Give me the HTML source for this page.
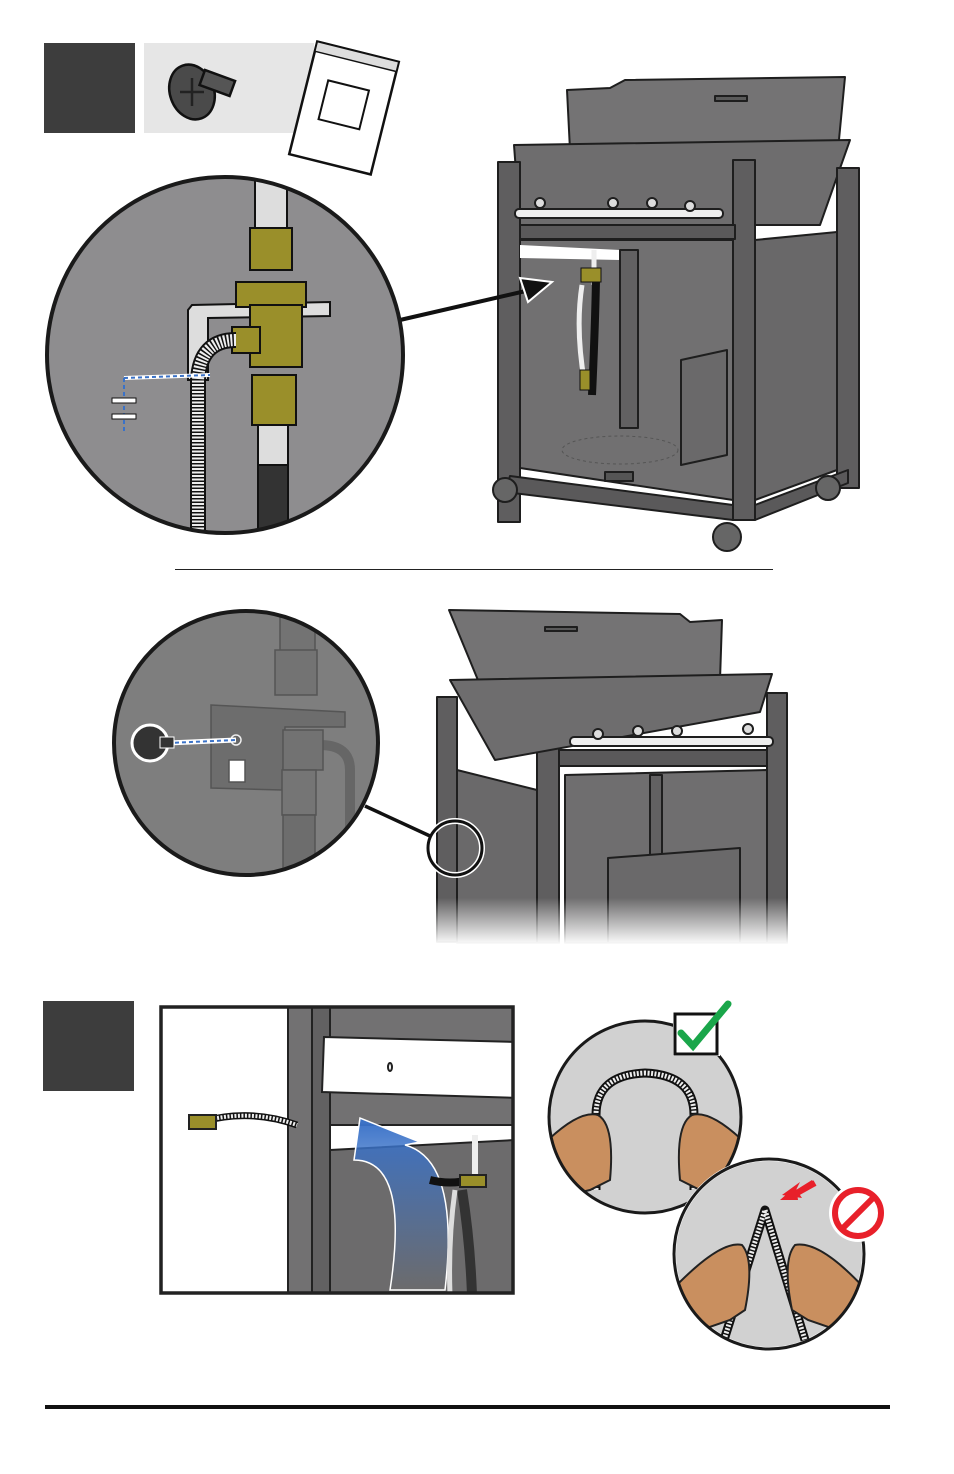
<!DOCTYPE html>
<html><head><meta charset="utf-8"><style>
html,body{margin:0;padding:0;background:#fff;width:954px;height:1474px;overflow:hidden}
svg{display:block}
</style></head><body>
<svg width="954" height="1474" viewBox="0 0 954 1474" xmlns="http://www.w3.org/2000/svg">
<defs>
<linearGradient id="fade" x1="0" y1="0" x2="0" y2="1">
<stop offset="0" stop-color="#fff" stop-opacity="0"/>
<stop offset="0.55" stop-color="#fff" stop-opacity="0"/>
<stop offset="1" stop-color="#fff" stop-opacity="1"/>
</linearGradient>
<linearGradient id="blue" x1="0" y1="0" x2="0" y2="1">
<stop offset="0" stop-color="#3a72c8"/>
<stop offset="1" stop-color="#3a72c8" stop-opacity="0"/>
</linearGradient>
<clipPath id="c1"><circle cx="225" cy="355" r="178"/></clipPath>
<clipPath id="c2"><circle cx="246" cy="743" r="132"/></clipPath>
<clipPath id="c3"><circle cx="645" cy="1117" r="96"/></clipPath>
<clipPath id="c4"><circle cx="769" cy="1254" r="95"/></clipPath>
<clipPath id="box"><rect x="161" y="1007" width="352" height="286"/></clipPath>
</defs>

<!-- step 1 header -->
<rect x="44" y="43" width="91" height="90" fill="#3d3d3d"/>
<rect x="144" y="43" width="170" height="90" fill="#e6e6e6"/>
<g stroke="#111" stroke-width="2.5">
<ellipse cx="192" cy="92" rx="22" ry="28" fill="#4a4a4a" transform="rotate(-20 192 92)"/>
<rect x="205" y="70" width="32" height="16" fill="#555" transform="rotate(20 205 70)"/>
<path d="M180 92 L204 92 M192 78 L192 106" stroke="#222"/>
</g>
<g transform="rotate(14 344 108)">
<rect x="302" y="50" width="84" height="116" fill="#fff" stroke="#111" stroke-width="2.5"/>
<rect x="302" y="50" width="84" height="10" fill="#ddd" stroke="#111" stroke-width="1.5"/>
<rect x="322" y="85" width="42" height="40" fill="none" stroke="#111" stroke-width="2"/>
</g>

<!-- top grill -->
<g stroke="#1e1e1e" stroke-width="2" stroke-linejoin="round">
<path d="M567 90 L610 88 L625 80 L845 77 L838 150 L570 150 Z" fill="#747374"/>
<rect x="715" y="96" width="32" height="5" fill="#5a5a5a"/>
<path d="M514 145 L850 140 L820 225 L520 225 Z" fill="#6e6d6e"/>
<rect x="498" y="162" width="22" height="360" fill="#5f5e5f"/>
<rect x="837" y="168" width="22" height="320" fill="#5f5e5f"/>
<rect x="733" y="160" width="22" height="360" fill="#5f5e5f"/>
<path d="M520 240 L733 240 L733 500 L520 468 Z" fill="#717071"/>
<path d="M755 240 L837 232 L837 470 L755 500 Z" fill="#696869"/>
<rect x="520" y="225" width="215" height="14" fill="#5a595a"/>
<path d="M520 245 L620 250 L620 260 L520 258 Z" fill="#fff" stroke="none"/>
<rect x="620" y="250" width="18" height="178" fill="#626162"/>
<path d="M681 360 L727 350 L727 455 L681 465 Z" fill="#6a696a"/>
<ellipse cx="620" cy="450" rx="58" ry="14" fill="none" stroke="#555" stroke-dasharray="3 3" stroke-width="1"/>
<path d="M510 476 L733 505 L733 520 L505 492 Z" fill="#5a595a"/>
<path d="M755 505 L848 470 L848 483 L755 520 Z" fill="#5a595a"/>
<rect x="515" y="209" width="208" height="9" rx="4" fill="#eee"/>
<circle cx="540" cy="203" r="5" fill="#ddd"/><circle cx="613" cy="203" r="5" fill="#ddd"/><circle cx="652" cy="203" r="5" fill="#ddd"/><circle cx="690" cy="206" r="5" fill="#ddd"/>
<circle cx="505" cy="490" r="12" fill="#666"/><circle cx="828" cy="488" r="12" fill="#666"/><circle cx="727" cy="537" r="14" fill="#666"/>
<rect x="605" y="472" width="28" height="9" fill="#555"/>
</g>
<path d="M594 250 L594 285" stroke="#eee" stroke-width="5"/>
<path d="M596 280 Q595 330 592 395" stroke="#111" stroke-width="8" fill="none"/>
<path d="M582 285 Q575 330 585 385" stroke="#eee" stroke-width="5" fill="none"/>
<rect x="581" y="268" width="20" height="14" fill="#9a8f2a" stroke="#111"/>
<rect x="580" y="370" width="10" height="20" fill="#9a8f2a" stroke="#111"/>

<!-- arrow -->
<line x1="400" y1="320" x2="530" y2="290" stroke="#111" stroke-width="4"/>
<path d="M520 278 L552 282 L528 302 Z" fill="#111" stroke="#fff" stroke-width="2"/>

<!-- circle 1 -->
<circle cx="225" cy="355" r="178" fill="#8e8d8f"/>
<g clip-path="url(#c1)" stroke="#111" stroke-width="2">
<rect x="255" y="180" width="32" height="55" fill="#ddd"/>
<rect x="258" y="425" width="30" height="42" fill="#ddd"/>
<rect x="258" y="465" width="30" height="80" fill="#333"/>
<path d="M188 310 L192 305 L330 302 L330 316 L208 318 L208 380 L188 380 Z" fill="#ddd"/>
<rect x="250" y="228" width="42" height="42" fill="#9a8f2a"/>
<rect x="236" y="282" width="70" height="25" fill="#9a8f2a"/>
<rect x="250" y="305" width="52" height="62" fill="#9a8f2a"/>
<rect x="252" y="375" width="44" height="50" fill="#9a8f2a"/>
<rect x="232" y="327" width="28" height="26" fill="#9a8f2a"/>
<path d="M236 340 Q200 340 198 380 L198 545" stroke="#111" stroke-width="16" fill="none"/>
<path d="M236 340 Q200 340 198 380 L198 545" stroke="#eee" stroke-width="12" fill="none" stroke-dasharray="2 1.5"/>
<path d="M124 378 L210 375" stroke="#fff" stroke-width="4"/>
<path d="M124 378 L210 375 M124 378 L124 432" stroke="#3a72c8" stroke-width="2" stroke-dasharray="4 3"/>
<rect x="112" y="398" width="24" height="5" fill="#fff" stroke-width="1"/>
<rect x="112" y="414" width="24" height="5" fill="#fff" stroke-width="1"/>
</g>
<circle cx="225" cy="355" r="178" fill="none" stroke="#1a1a1a" stroke-width="4"/>

<!-- divider -->
<line x1="175" y1="569.5" x2="773" y2="569.5" stroke="#222" stroke-width="1"/>

<!-- second grill -->
<g stroke="#1e1e1e" stroke-width="2" stroke-linejoin="round">
<path d="M449 610 L680 614 L690 622 L722 620 L720 680 L480 685 Z" fill="#747374"/>
<rect x="545" y="627" width="32" height="4" fill="#5a5a5a"/>
<rect x="437" y="697" width="20" height="245" fill="#5f5e5f"/>
<rect x="767" y="693" width="20" height="250" fill="#5f5e5f"/>
<rect x="537" y="688" width="22" height="255" fill="#5f5e5f"/>
<path d="M457 770 L537 790 L537 943 L457 943 Z" fill="#6a696a"/>
<path d="M565 775 L767 770 L767 943 L565 943 Z" fill="#6f6e6f"/>
<rect x="650" y="775" width="12" height="168" fill="#626162"/>
<path d="M608 858 L740 848 L740 943 L608 943 Z" fill="#6a696a"/>
<path d="M450 680 L772 674 L760 712 L495 760 Z" fill="#6e6d6e"/>
<rect x="559" y="750" width="208" height="16" fill="#5a595a"/>
<rect x="570" y="737" width="203" height="9" rx="4" fill="#eee"/>
<circle cx="598" cy="734" r="5" fill="#ddd"/><circle cx="638" cy="731" r="5" fill="#ddd"/><circle cx="677" cy="731" r="5" fill="#ddd"/><circle cx="748" cy="729" r="5" fill="#ddd"/>
</g>
<rect x="430" y="840" width="370" height="105" fill="url(#fade)"/>
<circle cx="455" cy="848" r="27" fill="none" stroke="#fff" stroke-width="6"/>
<circle cx="455" cy="848" r="27" fill="none" stroke="#111" stroke-width="3"/>
<line x1="365" y1="806" x2="430" y2="836" stroke="#111" stroke-width="3.5"/>

<!-- circle 2 -->
<circle cx="246" cy="743" r="132" fill="#7e7e7e"/>
<g clip-path="url(#c2)" stroke="#555" stroke-width="1.5">
<rect x="280" y="610" width="35" height="45" fill="#737373"/>
<rect x="275" y="650" width="42" height="45" fill="#737373"/>
<path d="M211 705 L345 712 L345 727 L285 727 L282 790 L211 788 Z" fill="#6d6d6d"/>
<path d="M320 745 Q350 745 350 770 L350 880" stroke="#666" stroke-width="10" fill="none"/>
<rect x="283" y="730" width="40" height="40" fill="#727272"/>
<rect x="282" y="770" width="34" height="45" fill="#757575"/>
<rect x="283" y="815" width="32" height="70" fill="#6d6d6d"/>
<rect x="229" y="760" width="16" height="22" fill="#fff"/>
<circle cx="236" cy="740" r="5" fill="#666" stroke="#eee"/>
</g>
<line x1="168" y1="743" x2="236" y2="740" stroke="#fff" stroke-width="5"/>
<line x1="168" y1="743" x2="236" y2="740" stroke="#3a72c8" stroke-width="2" stroke-dasharray="4 3"/>
<circle cx="150" cy="743" r="18" fill="#333" stroke="#fff" stroke-width="3"/>
<rect x="160" y="737" width="14" height="11" fill="#333" stroke="#fff" stroke-width="1"/>
<circle cx="246" cy="743" r="132" fill="none" stroke="#1a1a1a" stroke-width="4"/>

<!-- step 2 -->
<rect x="43" y="1001" width="91" height="90" fill="#3d3d3d"/>
<rect x="161" y="1007" width="352" height="286" fill="#fff"/>
<g clip-path="url(#box)" stroke="#222" stroke-width="2">
<rect x="288" y="1000" width="240" height="300" fill="#727172"/>
<rect x="312" y="1000" width="18" height="300" fill="#626162"/>
<path d="M324 1037 L520 1042 L520 1098 L322 1092 Z" fill="#fff"/>
<ellipse cx="390" cy="1067" rx="2" ry="4" fill="none"/>
<rect x="330" y="1125" width="185" height="28" fill="#fff"/>
<path d="M330 1150 L515 1140 L515 1300 L330 1300 Z" fill="#6c6b6c"/>
<path d="M354 1160 Q410 1160 390 1290 L445 1290 Q460 1160 405 1145 L420 1142 L360 1118 Z" fill="url(#blue)" stroke="#fff" stroke-width="1.5"/>
<path d="M430 1180 Q450 1185 470 1180" stroke="#111" stroke-width="8" fill="none"/>
<path d="M462 1190 Q470 1240 472 1295" stroke="#333" stroke-width="10" fill="none"/>
<path d="M455 1190 Q448 1240 450 1295" stroke="#ddd" stroke-width="5" fill="none"/>
<path d="M475 1135 L475 1175" stroke="#eee" stroke-width="6"/>
<rect x="460" y="1175" width="26" height="12" fill="#9a8f2a"/>
<path d="M200 1122 Q250 1108 297 1125" stroke="#111" stroke-width="7" fill="none"/>
<path d="M200 1122 Q250 1108 297 1125" stroke="#eee" stroke-width="4" fill="none" stroke-dasharray="2 1.5"/>
<rect x="189" y="1115" width="27" height="14" fill="#9a8f2a"/>
</g>
<rect x="161" y="1007" width="352" height="286" fill="none" stroke="#222" stroke-width="3.5"/>

<!-- hose circles -->
<circle cx="645" cy="1117" r="96" fill="#d1d1d1"/>
<g clip-path="url(#c3)">
<path d="M596 1190 L596 1115 Q596 1075 645 1073 Q694 1075 694 1115 L694 1190" stroke="#111" stroke-width="9" fill="none"/>
<path d="M596 1190 L596 1115 Q596 1075 645 1073 Q694 1075 694 1115 L694 1190" stroke="#eee" stroke-width="5" fill="none" stroke-dasharray="2 1.5"/>
<path d="M548 1140 Q580 1110 598 1115 Q615 1125 610 1180 L590 1190 L548 1200 Z" fill="#c98f5f" stroke="#222" stroke-width="2"/>
<path d="M742 1140 Q710 1110 692 1115 Q675 1125 680 1180 L700 1190 L742 1200 Z" fill="#c98f5f" stroke="#222" stroke-width="2"/>
</g>
<circle cx="645" cy="1117" r="96" fill="none" stroke="#1a1a1a" stroke-width="3"/>
<rect x="673" y="1012" width="47" height="44" fill="#fff"/>
<rect x="675" y="1014" width="42" height="40" fill="none" stroke="#111" stroke-width="3"/>
<path d="M681 1033 L693 1046 L728 1004" stroke="#1aa64a" stroke-width="7" fill="none" stroke-linecap="round"/>

<circle cx="769" cy="1254" r="95" fill="#d1d1d1" stroke="#fff" stroke-width="4"/>
<g clip-path="url(#c4)">
<path d="M724 1340 L765 1210 L805 1340" stroke="#111" stroke-width="9" fill="none" stroke-linejoin="round"/>
<path d="M724 1340 L765 1210 L805 1340" stroke="#eee" stroke-width="5" fill="none" stroke-dasharray="2 1.5"/>
<path d="M672 1290 Q720 1240 742 1245 Q755 1260 745 1310 L730 1320 L672 1340 Z" fill="#c98f5f" stroke="#222" stroke-width="2"/>
<path d="M866 1290 Q820 1240 795 1245 Q782 1260 792 1310 L808 1320 L866 1340 Z" fill="#c98f5f" stroke="#222" stroke-width="2"/>
</g>
<circle cx="769" cy="1254" r="95" fill="none" stroke="#1a1a1a" stroke-width="3"/>
<path d="M812 1180 L796 1190 L800 1182 L782 1195 L802 1198 L798 1192 L816 1186 Z" fill="#e8202a"/>
<path d="M815 1183 L790 1197" stroke="#e8202a" stroke-width="6"/>
<path d="M780 1200 L796 1186 L798 1200 Z" fill="#e8202a"/>
<circle cx="858" cy="1213" r="29" fill="#fff"/>
<circle cx="858" cy="1213" r="23" fill="none" stroke="#e8202a" stroke-width="6"/>
<line x1="842" y1="1229" x2="874" y2="1197" stroke="#e8202a" stroke-width="6"/>

<!-- bottom rule -->
<line x1="45" y1="1407" x2="890" y2="1407" stroke="#111" stroke-width="4"/>
</svg>
</body></html>
